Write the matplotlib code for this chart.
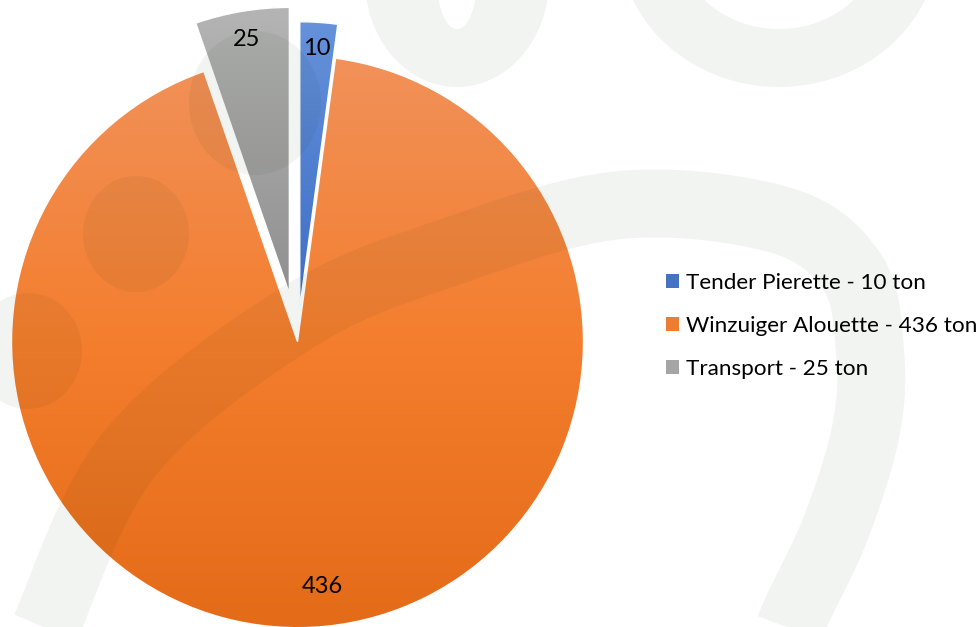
import numpy as np
import matplotlib
matplotlib.use('Agg')
import matplotlib.pyplot as plt
from matplotlib.path import Path
from matplotlib.patches import PathPatch, Ellipse, Patch, Wedge
from matplotlib.colors import to_rgb

# data
labels = ['Tender Pierette - 10 ton', 'Winzuiger Alouette - 436 ton', 'Transport - 25 ton']
values = [10, 436, 25]
colors = ['#4472C4', '#ED7D31', '#A5A5A5']

FONT = ['Lato', 'DejaVu Sans']
W, H = 980, 627

fig = plt.figure(figsize=(W / 100, H / 100), dpi=100)
ax = fig.add_axes([0, 0, 1, 1])

R = 286
cx, cy = 297.5, H - 341.7
explode = [34, 0, 49]

wedges, _ = ax.pie(values, explode=explode, colors=colors, startangle=90, counterclock=False,
                   radius=R, center=(cx, cy), wedgeprops=dict(edgecolor='none'))

# vertical gradient on each slice (pixel row from top -> colour)
grad_stops = [
    [(20, '#6692DB'), (300, '#3E6EC5')],
    [(60, '#F19159'), (340, '#F47E2E'), (620, '#E46B18')],
    [(10, '#B4B4B4'), (290, '#909090')],
]
rows = np.arange(H)
for w, stops in zip(wedges, grad_stops):
    pos = [s[0] for s in stops]
    cols = np.array([to_rgb(s[1]) for s in stops])
    img = np.stack([np.interp(rows, pos, cols[:, k]) for k in range(3)], axis=-1)[:, None, :]
    im = ax.imshow(img, extent=(0, W, 0, H), aspect='auto', zorder=2)
    im.set_clip_path(w)

for w in wedges:
    ax.add_patch(Wedge(w.center, w.r, w.theta1, w.theta2,
                       facecolor='none', edgecolor='white', lw=1, zorder=3))

# data labels
label_dist = [0.91, 0.86, 0.90]
for w, v, d in zip(wedges, values, label_dist):
    ang = np.deg2rad((w.theta1 + w.theta2) / 2)
    x0, y0 = w.center
    ax.text(x0 + d * R * np.cos(ang), y0 + d * R * np.sin(ang), str(v),
            ha='center', va='center', fontsize=17, family=FONT, color='black', zorder=5)

ax.set_xlim(0, W)
ax.set_ylim(0, H)
ax.axis('off')

# watermark shapes drawn over everything, in pixel coords (y down)
wm = fig.add_axes([0, 0, 1, 1], zorder=1)
wm.set_xlim(0, W)
wm.set_ylim(H, 0)
wm.axis('off')
wm.patch.set_alpha(0)
WM_C, WM_A = '#0c2a00', 0.052


def ell(x, y, rx, ry, rev=False, n=160):
    t = np.linspace(0, 2 * np.pi, n)
    if rev:
        t = t[::-1]
    return np.column_stack([x + rx * np.cos(t), y + ry * np.sin(t)])


def ring(x, y, rxo, ryo, rxi, ryi):
    p = Path.make_compound_path(Path(ell(x, y, rxo, ryo), closed=True),
                                Path(ell(x, y, rxi, ryi, rev=True), closed=True))
    return PathPatch(p, facecolor=WM_C, edgecolor='none', alpha=WM_A)


def smooth(pts, n=40):
    p = np.asarray(pts, float)
    p = np.vstack([p[0], p, p[-1]])
    out = []
    t = np.linspace(0, 1, n, endpoint=False)[:, None]
    for i in range(1, len(p) - 2):
        p0, p1, p2, p3 = p[i - 1], p[i], p[i + 1], p[i + 2]
        out.append(0.5 * (2 * p1 + (-p0 + p2) * t + (2 * p0 - 5 * p1 + 4 * p2 - p3) * t ** 2
                          + (-p0 + 3 * p1 - 3 * p2 + p3) * t ** 3))
    out.append(p[-2][None])
    return np.vstack(out)


wm.add_patch(ring(457, -20, 92, 107, 20, 49))
wm.add_patch(ring(779, -60, 160, 147, 101, 89))
for (ex, ey, erx, ery) in [(136, 234, 53, 58), (28, 351, 54, 58), (255, 103, 66, 72)]:
    wm.add_patch(Ellipse((ex, ey), 2 * erx, 2 * ery, facecolor=WM_C, edgecolor='none', alpha=WM_A))

arch = smooth([(30, 680), (46, 627), (131, 452), (300, 316), (450, 252), (620, 205),
               (780, 220), (852, 272), (870, 350), (866, 430), (835, 530), (790, 627), (780, 680)])
wm.plot(arch[:, 0], arch[:, 1], color=WM_C, alpha=WM_A, lw=68 * 0.72,
        solid_capstyle='butt', solid_joinstyle='round')

# legend
handles = [Patch(facecolor=c, edgecolor='none') for c in colors]
fig.legend(handles, labels, loc='center left', bbox_to_anchor=(666 / W, 1 - 326 / H),
           frameon=False, prop={'family': FONT, 'size': 16.2}, handlelength=0.58, handleheight=0.58,
           handletextpad=0.3, labelspacing=1.03, borderpad=0, borderaxespad=0)

fig.savefig('out.png', dpi=100)
